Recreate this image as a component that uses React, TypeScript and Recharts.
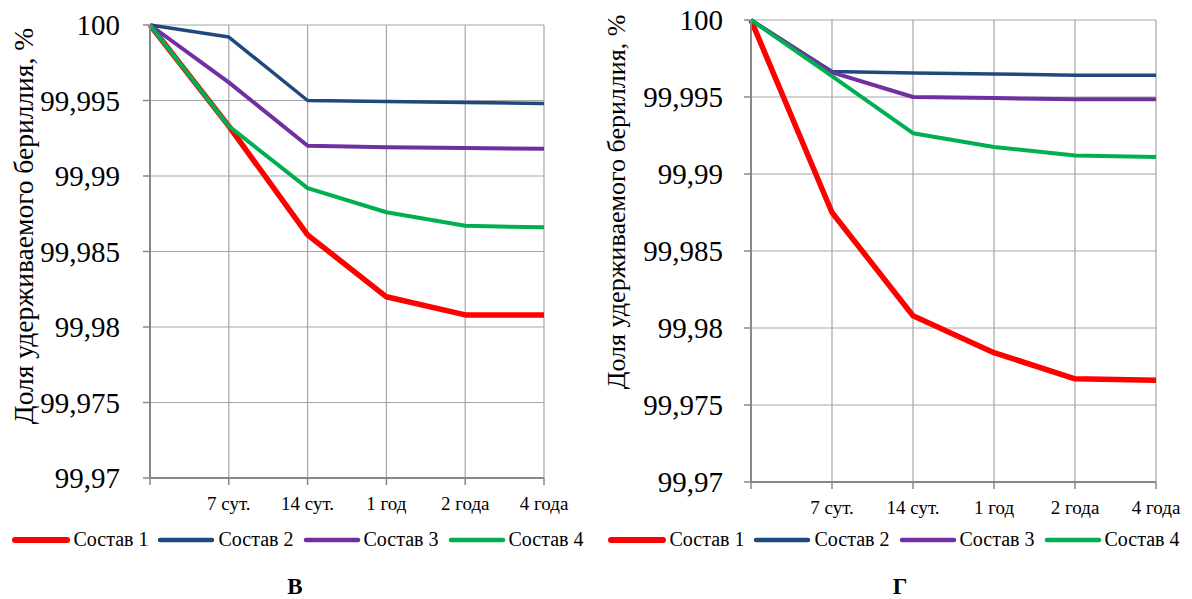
import React from "react";
import { LineChart, Line, XAxis, YAxis, CartesianGrid } from "recharts";

const CATEGORIES = ["", "7 сут.", "14 сут.", "1 год", "2 года", "4 года"];
const Y_TICKS = [99.97, 99.975, 99.98, 99.985, 99.99, 99.995, 100];
const SERIES_NAMES = ["Состав 1", "Состав 2", "Состав 3", "Состав 4"];

// panel "В"
const V_SOSTAV1 = [100, 99.9933, 99.9861, 99.9820, 99.9808, 99.9808];
const V_SOSTAV2 = [100, 99.9992, 99.9950, 99.99493, 99.99487, 99.9948];
const V_SOSTAV3 = [100, 99.9962, 99.9920, 99.9919, 99.99185, 99.9918];
const V_SOSTAV4 = [100, 99.9933, 99.9892, 99.9876, 99.9867, 99.9866];

// panel "Г"
const G_SOSTAV1 = [100, 99.9875, 99.9808, 99.9784, 99.9767, 99.9766];
const G_SOSTAV2 = [100, 99.99666, 99.99656, 99.9965, 99.99642, 99.99642];
const G_SOSTAV3 = [100, 99.9966, 99.9950, 99.99493, 99.99485, 99.99485];
const G_SOSTAV4 = [100, 99.99635, 99.99265, 99.99175, 99.9912, 99.9911];

const STYLES = [
  { key: "s1", color: "#FF0000", width: 5.5 },
  { key: "s2", color: "#1F497D", width: 3.5 },
  { key: "s3", color: "#7030A0", width: 4 },
  { key: "s4", color: "#00B050", width: 4 },
];

const FONT = "Liberation Serif";
const GRID = "#A6A6A6";
const AXIS = "#888888";

function buildRows(series: number[][]) {
  return CATEGORIES.map((c, i) => ({
    period: c,
    s1: series[0][i],
    s2: series[1][i],
    s3: series[2][i],
    s4: series[3][i],
  }));
}

const fmt = (v: number) => String(v).replace(".", ",");

type PanelProps = {
  left: number;
  series: number[][];
  top: number;
  bottom: number;
  yWidth: number;
  right: number;
  tickGap: number;
  yLabel: { x: number; y: number; size: number };
  subtitle: string;
  subX: number;
};

function Panel({ left, series, top, bottom, yWidth, right, tickGap, yLabel, subtitle, subX }: PanelProps) {
  const rows = buildRows(series);
  return (
    <div style={{ position: "absolute", left, top: 0, width: 596, height: 599, fontFamily: FONT }}>
      <LineChart width={596} height={599} data={rows} margin={{ top, right, left: 0, bottom }}>
        <CartesianGrid stroke={GRID} strokeWidth={1.2} vertical horizontal />
        <XAxis
          dataKey="period"
          scale="point"
          padding={{ left: 0, right: 0 }}
          interval={0}
          height={40}
          tickSize={7}
          tickMargin={12}
          axisLine={{ stroke: AXIS, strokeWidth: 2 }}
          tickLine={{ stroke: AXIS, strokeWidth: 1.5 }}
          tick={{ fontSize: 19, fill: "#000", fontFamily: FONT }}
        />
        <YAxis
          domain={[99.97, 100]}
          ticks={Y_TICKS}
          interval={0}
          width={yWidth}
          tickSize={7}
          tickMargin={tickGap}
          tickFormatter={fmt}
          axisLine={{ stroke: AXIS, strokeWidth: 2 }}
          tickLine={{ stroke: AXIS, strokeWidth: 1.5 }}
          tick={{ fontSize: 29, fill: "#000", fontFamily: FONT }}
        />
        {STYLES.map((s, i) => (
          <Line
            key={s.key}
            type="linear"
            dataKey={s.key}
            name={SERIES_NAMES[i]}
            stroke={s.color}
            strokeWidth={s.width}
            strokeLinejoin="round"
            dot={false}
            activeDot={false}
            isAnimationActive={false}
          />
        ))}
      </LineChart>

      {/* rotated axis title */}
      <div
        style={{
          position: "absolute",
          left: yLabel.x,
          top: yLabel.y,
          transform: "translate(-50%, -50%) rotate(-90deg)",
          whiteSpace: "nowrap",
          fontFamily: FONT,
          fontSize: yLabel.size,
          color: "#000",
          lineHeight: 1,
        }}
      >
        Доля удерживаемого бериллия, %
      </div>

      {/* legend */}
      <div
        style={{
          position: "absolute",
          left: 0,
          top: 528,
          width: 596,
          display: "flex",
          justifyContent: "center",
          alignItems: "center",
          fontFamily: FONT,
          fontSize: 20,
          color: "#000",
        }}
      >
        {STYLES.map((s, i) => (
          <div key={s.key} style={{ display: "flex", alignItems: "center", marginRight: i < 3 ? 9 : 0 }}>
            <svg width={58} height={12} style={{ marginRight: 3 }}>
              <line x1={3} y1={6} x2={55} y2={6} stroke={s.color} strokeWidth={s.key === "s1" ? 6 : 4.5} strokeLinecap="round" />
            </svg>
            <span>{SERIES_NAMES[i]}</span>
          </div>
        ))}
      </div>

      <div
        style={{
          position: "absolute",
          left: subX,
          top: 575,
          transform: "translateX(-50%)",
          fontFamily: FONT,
          fontSize: 23,
          fontWeight: "bold",
          color: "#000",
          lineHeight: 1,
        }}
      >
        {subtitle}
      </div>
    </div>
  );
}

export default function App() {
  return (
    <div style={{ position: "absolute", left: 0, top: 0, width: 1192, height: 599, background: "#fff", overflow: "hidden" }}>
      <Panel
        left={0}
        series={[V_SOSTAV1, V_SOSTAV2, V_SOSTAV3, V_SOSTAV4]}
        top={25}
        bottom={81}
        yWidth={150}
        right={52}
        tickGap={23}
        yLabel={{ x: 24, y: 226, size: 27.5 }}
        subtitle="В"
        subX={295}
      />
      <Panel
        left={596}
        series={[G_SOSTAV1, G_SOSTAV2, G_SOSTAV3, G_SOSTAV4]}
        top={20}
        bottom={77}
        yWidth={155}
        right={36}
        tickGap={21}
        yLabel={{ x: 21, y: 202, size: 26 }}
        subtitle="Г"
        subX={304}
      />
    </div>
  );
}
